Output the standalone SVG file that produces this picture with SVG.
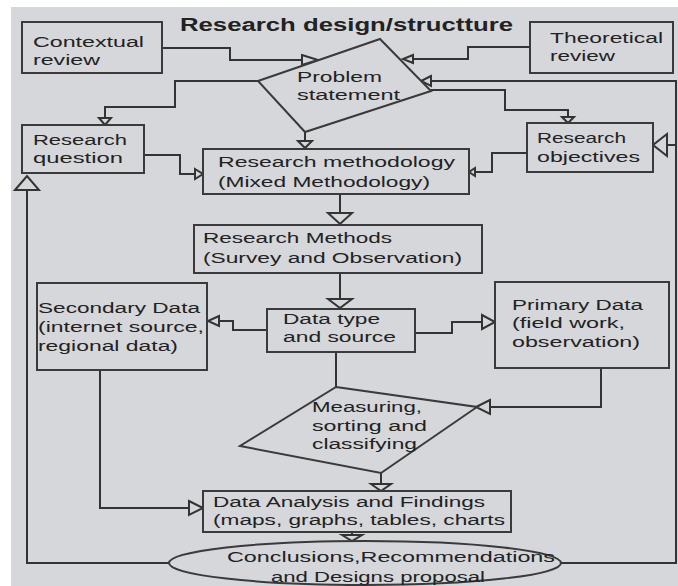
<svg xmlns="http://www.w3.org/2000/svg" width="678" height="586" viewBox="0 0 678 586">
<style>
.bg{fill:#d5d7da}
.box{fill:#d5d7da;stroke:#3a3a3a;stroke-width:2}
.ln{fill:none;stroke:#333;stroke-width:2}
.ah{fill:#d5d7da;stroke:#333;stroke-width:2;stroke-linejoin:miter}
text{font-family:"Liberation Sans",Arial,sans-serif;font-size:15.5px;fill:#222}
.t{font-weight:bold;font-size:18px}
</style>
<rect x="0" y="0" width="678" height="586" fill="#ffffff"/>
<rect class="bg" x="11" y="7" width="667" height="579"/>
<text class="t" x="180" y="31" textLength="333" lengthAdjust="spacingAndGlyphs">Research design/structture</text>

<g id="connectors">
  <path class="ln" d="M162,48 H230 V60 H302"/>
  <polygon class="ah" points="302,55 318,60 302,65"/>
  <path class="ln" d="M530,47 H468 V59 H413"/>
  <polygon class="ah" points="413,55 403,59 413,63"/>
  <path class="ln" d="M561,563 H676 V81 H431"/>
  <polygon class="ah" points="431,76 421,81 431,86"/>
  <path class="ln" d="M676,145 H667"/>
  <polygon class="ah" points="667,134 653,145 667,156"/>
  <path class="ln" d="M258,81 H175 V107 H105 V118"/>
  <polygon class="ah" points="99,118 105,125 111,118"/>
  <path class="ln" d="M305,132 V141"/>
  <polygon class="ah" points="298,141 305,148 312,141"/>
  <path class="ln" d="M144,155 H180 V174 H195"/>
  <polygon class="ah" points="195,169 203,174 195,179"/>
  <path class="ln" d="M431,90 H505 V110 H568 V117"/>
  <polygon class="ah" points="562,117 568,123 574,117"/>
  <path class="ln" d="M527,153 H492 V172 H475"/>
  <polygon class="ah" points="475,168 469,172 475,176"/>
  <path class="ln" d="M340,194 V213"/>
  <polygon class="ah" points="328,213 340,224 352,213"/>
  <path class="ln" d="M340,273 V299"/>
  <polygon class="ah" points="328,299 340,308 352,299"/>
  <path class="ln" d="M267,330 H233 V321 H219"/>
  <polygon class="ah" points="219,316 208,321 219,326"/>
  <path class="ln" d="M415,333 H452 V322 H482"/>
  <polygon class="ah" points="482,315 495,322 482,329"/>
  <path class="ln" d="M336,352 V387"/>
  <path class="ln" d="M601,368 V407 H490"/>
  <polygon class="ah" points="490,400 476,407 490,414"/>
  <path class="ln" d="M381,473 V484"/>
  <polygon class="ah" points="371,484 381,491 391,484"/>
  <path class="ln" d="M100,370 V508 H189"/>
  <polygon class="ah" points="189,501 203,508 189,515"/>
  <path class="ln" d="M352,532 V535"/>
  <polygon class="ah" points="342,535 352,541 362,535"/>
  <path class="ln" d="M170,563 H27 V190"/>
  <polygon class="ah" points="15,190 27,176 39,190"/>
</g>

<g id="contextual">
  <rect class="box" x="22" y="22" width="140" height="51"/>
  <text x="33" y="47" textLength="111" lengthAdjust="spacingAndGlyphs">Contextual</text>
  <text x="33" y="65" textLength="67" lengthAdjust="spacingAndGlyphs">review</text>
</g>
<g id="theoretical">
  <rect class="box" x="530" y="22" width="143" height="51"/>
  <text x="550" y="43" textLength="113" lengthAdjust="spacingAndGlyphs">Theoretical</text>
  <text x="550" y="61" textLength="65" lengthAdjust="spacingAndGlyphs">review</text>
</g>
<g id="problem">
  <polygon class="box" points="380,39 431,91 305,132 258,81"/>
  <text x="297" y="82" textLength="85" lengthAdjust="spacingAndGlyphs">Problem</text>
  <text x="297" y="100" textLength="103" lengthAdjust="spacingAndGlyphs">statement</text>
</g>
<g id="question">
  <rect class="box" x="22" y="125" width="122" height="48"/>
  <text x="33" y="145" textLength="94" lengthAdjust="spacingAndGlyphs">Research</text>
  <text x="33" y="163" textLength="90" lengthAdjust="spacingAndGlyphs">question</text>
</g>
<g id="methodology">
  <rect class="box" x="203" y="149" width="266" height="45"/>
  <text x="218" y="167" textLength="237" lengthAdjust="spacingAndGlyphs">Research methodology</text>
  <text x="218" y="187" textLength="212" lengthAdjust="spacingAndGlyphs">(Mixed Methodology)</text>
</g>
<g id="objectives">
  <rect class="box" x="527" y="123" width="126" height="49"/>
  <text x="537" y="143" textLength="89" lengthAdjust="spacingAndGlyphs">Research</text>
  <text x="537" y="162" textLength="103" lengthAdjust="spacingAndGlyphs">objectives</text>
</g>
<g id="methods">
  <rect class="box" x="194" y="225" width="288" height="48"/>
  <text x="203" y="243" textLength="189" lengthAdjust="spacingAndGlyphs">Research Methods</text>
  <text x="203" y="263" textLength="259" lengthAdjust="spacingAndGlyphs">(Survey and Observation)</text>
</g>
<g id="datatype">
  <rect class="box" x="267" y="309" width="148" height="43"/>
  <text x="283" y="324" textLength="97" lengthAdjust="spacingAndGlyphs">Data type</text>
  <text x="283" y="342" textLength="113" lengthAdjust="spacingAndGlyphs">and source</text>
</g>
<g id="secondary">
  <rect class="box" x="37" y="283" width="170" height="87"/>
  <text x="38" y="313" textLength="162" lengthAdjust="spacingAndGlyphs">Secondary Data</text>
  <text x="38" y="332" textLength="166" lengthAdjust="spacingAndGlyphs">(internet source,</text>
  <text x="38" y="351" textLength="140" lengthAdjust="spacingAndGlyphs">regional data)</text>
</g>
<g id="primary">
  <rect class="box" x="495" y="282" width="174" height="86"/>
  <text x="512" y="310" textLength="131" lengthAdjust="spacingAndGlyphs">Primary Data</text>
  <text x="512" y="328" textLength="113" lengthAdjust="spacingAndGlyphs">(field work,</text>
  <text x="512" y="347" textLength="128" lengthAdjust="spacingAndGlyphs">observation)</text>
</g>
<g id="measuring">
  <polygon class="box" points="336,387 477,407 381,473 240,446"/>
  <text x="312" y="412" textLength="110" lengthAdjust="spacingAndGlyphs">Measuring,</text>
  <text x="312" y="431" textLength="115" lengthAdjust="spacingAndGlyphs">sorting and</text>
  <text x="312" y="449" textLength="105" lengthAdjust="spacingAndGlyphs">classifying</text>
</g>
<g id="analysis">
  <rect class="box" x="203" y="491" width="308" height="41"/>
  <text x="213" y="507" textLength="272" lengthAdjust="spacingAndGlyphs">Data Analysis and Findings</text>
  <text x="213" y="525" textLength="292" lengthAdjust="spacingAndGlyphs">(maps, graphs, tables, charts</text>
</g>
<g id="conclusions">
  <ellipse class="box" cx="365" cy="563" rx="196" ry="22"/>
  <text x="227" y="562" textLength="328" lengthAdjust="spacingAndGlyphs">Conclusions,Recommendations</text>
  <text x="271" y="582" textLength="214" lengthAdjust="spacingAndGlyphs">and Designs proposal</text>
</g>
</svg>
